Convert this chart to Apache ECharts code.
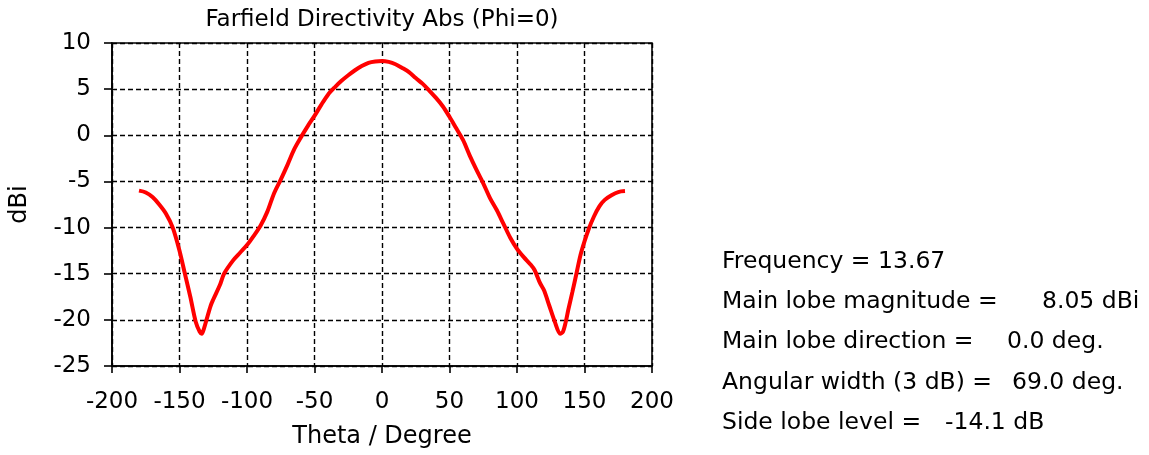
<!DOCTYPE html>
<html>
<head>
<meta charset="utf-8">
<script src="https://cdn.jsdelivr.net/npm/echarts@6/dist/echarts.min.js"></script>
<style>
html,body{margin:0;padding:0;background:#fff;}
#chart{width:1149px;height:455px;}
</style>
</head>
<body>
<div id="chart"></div>
<script>
const theta = [-180,-175,-170,-165,-160,-155,-150,-146,-142,-138,-135,-133.5,-132,-130,-127,-125,-120,-117,-110,-105,-100,-95,-90,-85,-80,-75,-70,-65,-60,-55,-50,-45,-40,-35,-30,-25,-20,-15,-10,-5,0,5,10,15,20,25,30,35,40,45,50,55,60,65,70,75,80,85,90,95,100,105,110,113,117,120,124,128,132,134,136,138,141,144,147,150,153,157,161,165,170,175,180];
const dbi = [-6.0,-6.2,-6.7,-7.5,-8.5,-10.0,-12.5,-15.0,-17.5,-20.2,-21.3,-21.5,-21.0,-20.0,-18.5,-17.8,-16.2,-15.0,-13.5,-12.7,-11.9,-10.9,-9.8,-8.3,-6.3,-4.8,-3.2,-1.5,-0.2,1.0,2.1,3.3,4.4,5.2,5.9,6.5,7.05,7.5,7.85,8.0,8.05,7.95,7.7,7.3,6.85,6.2,5.6,4.85,4.05,3.15,2.0,0.75,-0.5,-2.2,-3.75,-5.2,-6.8,-8.1,-9.6,-11.1,-12.3,-13.2,-14.0,-14.6,-16.0,-16.8,-18.5,-20.2,-21.5,-21.3,-20.3,-18.9,-17.0,-15.0,-13.0,-11.5,-10.2,-8.8,-7.7,-7.0,-6.5,-6.15,-6.05];
const titleText = 'Farfield Directivity Abs (Phi=0)';
const xName = 'Theta / Degree';
const yName = 'dBi';
const infoLabels = ['Frequency = 13.67','Main lobe magnitude =','Main lobe direction =','Angular width (3 dB) =','Side lobe level ='];
const infoValues = ['','8.05 dBi','0.0 deg.','69.0 deg.','-14.1 dB'];

const FONT = 'DejaVu Sans';
const chart = echarts.init(document.getElementById('chart'), null, {renderer:'canvas'});

const infoY = [261.5, 301.7, 342.3, 382.8, 422.5];
const valueX = [0, 1042, 1007, 1012, 945];
const graphics = [{
  type:'text', x:382, y:20.5,
  style:{text:titleText, fill:'#000', font:'23px "'+FONT+'"', textAlign:'center', textVerticalAlign:'middle'}
}];
infoLabels.forEach((t,i)=>{
  graphics.push({type:'text', x:722, y:infoY[i], style:{text:t, fill:'#000', font:'23.5px "'+FONT+'"', textAlign:'left', textVerticalAlign:'middle'}});
  if(infoValues[i]) graphics.push({type:'text', x:valueX[i], y:infoY[i], style:{text:infoValues[i], fill:'#000', font:'23.5px "'+FONT+'"', textAlign:'left', textVerticalAlign:'middle'}});
});

const data = theta.map((t,i)=>[t, dbi[i]]);
const gridLine = {show:true, lineStyle:{color:'#000', width:1.4, type:[5,3]}};
chart.setOption({
  animation:false,
  backgroundColor:'#fff',
  grid:{left:112, right:497, top:43, bottom:89, show:true, borderColor:'#000', borderWidth:1.6, backgroundColor:'transparent', containLabel:false},
  xAxis:{
    type:'value', min:-200, max:200, interval:50,
    name:xName, nameLocation:'middle', nameGap:59,
    nameTextStyle:{fontFamily:FONT, fontSize:24, color:'#000'},
    axisLine:{show:true, onZero:false, lineStyle:{color:'#000', width:1.6}},
    axisTick:{show:true, inside:false, length:7, lineStyle:{color:'#000', width:1.6}},
    axisLabel:{fontFamily:FONT, fontSize:23, color:'#000', margin:25},
    splitLine:gridLine
  },
  yAxis:{
    type:'value', min:-25, max:10, interval:5,
    name:yName, nameLocation:'middle', nameGap:80, nameRotate:90,
    nameTextStyle:{fontFamily:FONT, fontSize:24, color:'#000'},
    axisLine:{show:true, onZero:false, lineStyle:{color:'#000', width:1.6}},
    axisTick:{show:true, inside:false, length:8, lineStyle:{color:'#000', width:1.6}},
    axisLabel:{fontFamily:FONT, fontSize:23, color:'#000', margin:21},
    splitLine:gridLine
  },
  graphic:graphics,
  series:[{
    type:'line', data:data, showSymbol:false, smooth:0.3,
    lineStyle:{color:'#ff0000', width:4}, z:5
  }]
});
</script>
</body>
</html>
